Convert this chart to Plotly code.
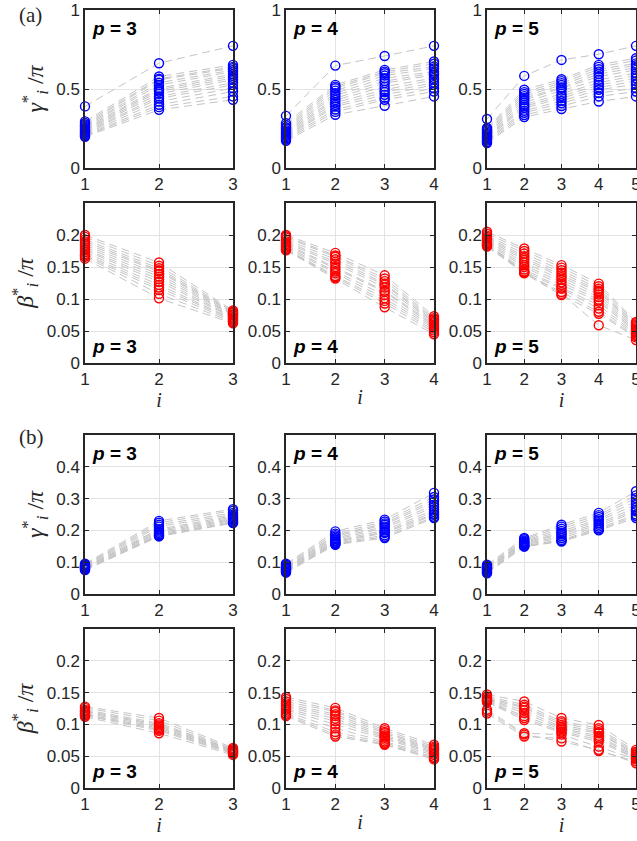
import plotly.graph_objects as go

# ---------------- data: optimal angles per instance (rows) vs layer i ----------------
gamma_a_p3 = [
    [0.390, 0.663, 0.773], [0.295, 0.579, 0.653], [0.285, 0.565, 0.640], [0.275, 0.558, 0.632],
    [0.268, 0.540, 0.620], [0.262, 0.525, 0.610], [0.255, 0.505, 0.595], [0.248, 0.495, 0.583],
    [0.240, 0.484, 0.570], [0.235, 0.470, 0.558], [0.228, 0.453, 0.540], [0.222, 0.440, 0.526],
    [0.215, 0.421, 0.505], [0.208, 0.400, 0.484], [0.203, 0.385, 0.453], [0.198, 0.368, 0.432],
]
gamma_a_p4 = [
    [0.330, 0.648, 0.709, 0.773], [0.284, 0.526, 0.621, 0.674], [0.270, 0.515, 0.610, 0.660],
    [0.258, 0.505, 0.600, 0.642], [0.250, 0.490, 0.585, 0.630], [0.240, 0.474, 0.568, 0.610],
    [0.232, 0.460, 0.550, 0.600], [0.225, 0.442, 0.537, 0.589], [0.218, 0.430, 0.515, 0.570],
    [0.210, 0.415, 0.495, 0.558], [0.203, 0.400, 0.480, 0.540], [0.195, 0.389, 0.463, 0.526],
    [0.188, 0.370, 0.445, 0.505], [0.180, 0.355, 0.432, 0.484], [0.172, 0.337, 0.394, 0.453],
]
gamma_a_p5 = [
    [0.310, 0.583, 0.684, 0.720, 0.773], [0.253, 0.495, 0.562, 0.653, 0.695],
    [0.245, 0.480, 0.550, 0.640, 0.680], [0.238, 0.468, 0.537, 0.625, 0.662],
    [0.230, 0.455, 0.525, 0.610, 0.650], [0.222, 0.442, 0.510, 0.595, 0.635],
    [0.215, 0.430, 0.505, 0.578, 0.621], [0.208, 0.415, 0.490, 0.558, 0.600],
    [0.200, 0.400, 0.470, 0.540, 0.585], [0.195, 0.390, 0.455, 0.525, 0.568],
    [0.188, 0.379, 0.442, 0.510, 0.550], [0.180, 0.362, 0.425, 0.495, 0.530],
    [0.173, 0.350, 0.410, 0.475, 0.505], [0.165, 0.335, 0.392, 0.453, 0.484],
    [0.158, 0.322, 0.373, 0.421, 0.453],
]
beta_a_p3 = [
    [0.200, 0.157, 0.082], [0.197, 0.152, 0.080], [0.193, 0.148, 0.079], [0.190, 0.145, 0.078],
    [0.187, 0.143, 0.076], [0.184, 0.139, 0.075], [0.181, 0.135, 0.074], [0.178, 0.131, 0.072],
    [0.176, 0.127, 0.071], [0.173, 0.122, 0.069], [0.170, 0.118, 0.068], [0.168, 0.114, 0.066],
    [0.166, 0.108, 0.064], [0.163, 0.101, 0.062],
]
beta_a_p4 = [
    [0.200, 0.172, 0.137, 0.073], [0.198, 0.168, 0.132, 0.070], [0.196, 0.166, 0.128, 0.068],
    [0.193, 0.162, 0.124, 0.066], [0.190, 0.158, 0.122, 0.064], [0.188, 0.155, 0.118, 0.062],
    [0.186, 0.150, 0.113, 0.060], [0.184, 0.147, 0.111, 0.058], [0.182, 0.143, 0.106, 0.056],
    [0.180, 0.140, 0.101, 0.054], [0.178, 0.136, 0.097, 0.051], [0.177, 0.134, 0.093, 0.048],
    [0.176, 0.132, 0.087, 0.045],
]
beta_a_p5 = [
    [0.205, 0.179, 0.153, 0.124, 0.064], [0.202, 0.175, 0.149, 0.120, 0.062],
    [0.199, 0.171, 0.145, 0.116, 0.060], [0.197, 0.167, 0.141, 0.113, 0.058],
    [0.195, 0.164, 0.137, 0.111, 0.056], [0.193, 0.161, 0.134, 0.107, 0.054],
    [0.191, 0.157, 0.130, 0.103, 0.052], [0.189, 0.153, 0.126, 0.099, 0.050],
    [0.187, 0.150, 0.122, 0.096, 0.048], [0.185, 0.146, 0.118, 0.090, 0.046],
    [0.184, 0.143, 0.116, 0.085, 0.044], [0.183, 0.141, 0.111, 0.080, 0.042],
    [0.182, 0.140, 0.106, 0.077, 0.040], [0.186, 0.142, 0.108, 0.059, 0.036],
]
gamma_b_p3 = [
    [0.095, 0.230, 0.267], [0.092, 0.224, 0.262], [0.090, 0.218, 0.255], [0.088, 0.212, 0.250],
    [0.086, 0.204, 0.246], [0.085, 0.200, 0.242], [0.083, 0.196, 0.238], [0.082, 0.192, 0.235],
    [0.080, 0.188, 0.232], [0.079, 0.185, 0.228], [0.077, 0.183, 0.225], [0.075, 0.181, 0.223],
]
gamma_b_p4 = [
    [0.095, 0.197, 0.234, 0.318], [0.092, 0.190, 0.228, 0.305], [0.088, 0.185, 0.222, 0.297],
    [0.085, 0.181, 0.218, 0.290], [0.083, 0.176, 0.212, 0.281], [0.081, 0.172, 0.207, 0.274],
    [0.079, 0.168, 0.200, 0.265], [0.077, 0.165, 0.195, 0.258], [0.075, 0.162, 0.192, 0.252],
    [0.072, 0.159, 0.185, 0.249], [0.070, 0.157, 0.180, 0.243], [0.067, 0.155, 0.176, 0.239],
]
gamma_b_p5 = [
    [0.092, 0.176, 0.218, 0.255, 0.323], [0.088, 0.172, 0.212, 0.248, 0.310],
    [0.085, 0.168, 0.205, 0.242, 0.302], [0.083, 0.165, 0.198, 0.235, 0.292],
    [0.081, 0.162, 0.192, 0.230, 0.281], [0.079, 0.160, 0.188, 0.223, 0.272],
    [0.076, 0.157, 0.182, 0.218, 0.265], [0.073, 0.155, 0.176, 0.212, 0.260],
    [0.070, 0.152, 0.170, 0.207, 0.250], [0.068, 0.150, 0.167, 0.203, 0.245],
    [0.065, 0.149, 0.165, 0.200, 0.239],
]
beta_b_p3 = [
    [0.128, 0.110, 0.063], [0.126, 0.106, 0.061], [0.123, 0.102, 0.060], [0.121, 0.100, 0.059],
    [0.120, 0.098, 0.058], [0.118, 0.096, 0.057], [0.116, 0.094, 0.056], [0.115, 0.092, 0.055],
    [0.114, 0.090, 0.054], [0.112, 0.086, 0.052],
]
beta_b_p4 = [
    [0.143, 0.126, 0.094, 0.068], [0.140, 0.122, 0.091, 0.065], [0.136, 0.120, 0.088, 0.063],
    [0.133, 0.116, 0.086, 0.061], [0.130, 0.113, 0.083, 0.060], [0.128, 0.109, 0.081, 0.058],
    [0.125, 0.105, 0.079, 0.056], [0.123, 0.100, 0.076, 0.054], [0.120, 0.094, 0.073, 0.052],
    [0.117, 0.088, 0.071, 0.049], [0.115, 0.084, 0.069, 0.047], [0.113, 0.081, 0.068, 0.045],
]
beta_b_p5 = [
    [0.147, 0.136, 0.110, 0.099, 0.060], [0.144, 0.131, 0.105, 0.094, 0.057],
    [0.142, 0.128, 0.102, 0.091, 0.055], [0.140, 0.126, 0.099, 0.088, 0.053],
    [0.139, 0.122, 0.096, 0.086, 0.052], [0.138, 0.118, 0.094, 0.082, 0.050],
    [0.137, 0.113, 0.092, 0.079, 0.049], [0.136, 0.110, 0.089, 0.076, 0.047],
    [0.135, 0.107, 0.087, 0.073, 0.046], [0.123, 0.086, 0.084, 0.065, 0.045],
    [0.117, 0.081, 0.078, 0.058, 0.042], [0.120, 0.084, 0.073, 0.060, 0.039],
]

p_values = [3, 4, 5]
row_data = [
    [gamma_a_p3, gamma_a_p4, gamma_a_p5],
    [beta_a_p3, beta_a_p4, beta_a_p5],
    [gamma_b_p3, gamma_b_p4, gamma_b_p5],
    [beta_b_p3, beta_b_p4, beta_b_p5],
]
row_kind = ["gamma", "beta", "gamma", "beta"]
row_range = [[0, 1], [0, 0.25], [0, 0.5], [0, 0.25]]
row_ticks = [[0, 0.5, 1], [0, 0.05, 0.1, 0.15, 0.2], [0, 0.1, 0.2, 0.3, 0.4], [0, 0.05, 0.1, 0.15, 0.2]]
panel_labels = ["(a)", "(b)"]

# ---------------- layout geometry (pixels) ----------------
# figure is a bit wider than the 637px window: the right column is cropped like the original
W, H = 647, 841
col_px = [(85, 233), (286, 434), (487, 636)]
row_px = [(10, 168), (203, 363), (435, 594), (629, 788)]

AX = "#262626"
GRID = "#e3e3e3"
TICKFONT = dict(family="Liberation Sans, Arial, sans-serif", size=17, color=AX)
SERIF = "Liberation Serif, Times New Roman, serif"

fig = go.Figure()
layout = {}
annotations = []

gamma_title = "<i>γ</i><sup>*</sup><sub><i>i</i></sub> /<i>π</i>"
beta_title = "<i>β</i><sup>*</sup><sub><i>i</i></sub> /<i>π</i>"

k = 0
for r in range(4):
    for c in range(3):
        k += 1
        p = p_values[c]
        inst = row_data[r][c]
        xs = list(range(1, p + 1))
        xname = "x" if k == 1 else f"x{k}"
        yname = "y" if k == 1 else f"y{k}"
        color = "#0000ff" if row_kind[r] == "gamma" else "#ff0000"
        for vals in inst:
            fig.add_trace(go.Scatter(
                x=xs, y=vals, mode="lines", xaxis=xname, yaxis=yname,
                line=dict(color="#c4c4c4", width=1, dash="8px,5px"),
                hoverinfo="skip", showlegend=False, cliponaxis=False))
        mx, my = [], []
        for vals in inst:
            mx.extend(xs)
            my.extend(vals)
        fig.add_trace(go.Scatter(
            x=mx, y=my, mode="markers", xaxis=xname, yaxis=yname,
            marker=dict(symbol="circle-open", size=9, color=color, line=dict(width=1.4, color=color)),
            showlegend=False, cliponaxis=False))

        x0, x1 = col_px[c]
        y0, y1 = row_px[r]
        xkey = "xaxis" if k == 1 else f"xaxis{k}"
        ykey = "yaxis" if k == 1 else f"yaxis{k}"
        xa = dict(domain=[x0 / W, x1 / W], anchor=yname, range=[1, p], automargin=False,
                  tickvals=xs, ticktext=[str(v) for v in xs],
                  showgrid=True, gridcolor=GRID, gridwidth=1, zeroline=False,
                  showline=True, linecolor=AX, linewidth=1.5, mirror="ticks",
                  ticks="inside", ticklen=4, tickcolor=AX, tickwidth=1,
                  tickfont=TICKFONT, fixedrange=True)
        if r in (1, 3):
            xa["title"] = dict(text="<i>i</i>", font=dict(family=SERIF, size=20, color=AX), standoff=2)
        ya = dict(domain=[1 - y1 / H, 1 - y0 / H], anchor=xname, range=row_range[r], automargin=False,
                  tickvals=row_ticks[r],
                  showgrid=True, gridcolor=GRID, gridwidth=1, zeroline=False,
                  showline=True, linecolor=AX, linewidth=1.5, mirror="ticks",
                  ticks="inside", ticklen=4, tickcolor=AX, tickwidth=1,
                  tickfont=TICKFONT, fixedrange=True)
        if c == 0:
            ya["title"] = dict(text=gamma_title if row_kind[r] == "gamma" else beta_title,
                               font=dict(family=SERIF, size=24, color=AX), standoff=6)
        layout[xkey] = xa
        layout[ykey] = ya

        # p = N label
        if row_kind[r] == "gamma":
            ay, yanc = 0.96, "top"
        else:
            ay, yanc = 0.025, "bottom"
        annotations.append(dict(
            text=f"<b><i>p</i> = {p}</b>", xref=f"{xname} domain", yref=f"{yname} domain",
            x=0.035, y=ay, xanchor="left", yanchor=yanc, showarrow=False,
            font=dict(family="Liberation Sans, Arial, sans-serif", size=19, color="black")))

annotations.append(dict(text=panel_labels[0], xref="paper", yref="paper", x=17 / W, y=1 - 15 / H,
                        xanchor="left", yanchor="middle", showarrow=False,
                        font=dict(family=SERIF, size=21, color=AX)))
annotations.append(dict(text=panel_labels[1], xref="paper", yref="paper", x=17 / W, y=1 - 437 / H,
                        xanchor="left", yanchor="middle", showarrow=False,
                        font=dict(family=SERIF, size=21, color=AX)))

fig.update_layout(
    width=W, height=H, margin=dict(l=0, r=0, t=0, b=0, autoexpand=False),
    paper_bgcolor="white", plot_bgcolor="white", showlegend=False,
    annotations=annotations, **layout)

fig.write_html("out.html", config={"displayModeBar": False},
               post_script="document.body.style.margin='0px';document.body.style.overflow='hidden';")
